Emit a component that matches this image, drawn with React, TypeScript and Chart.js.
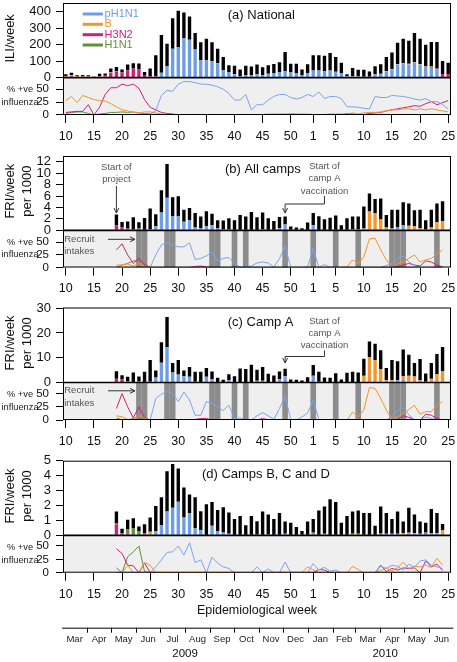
import React, { useEffect, useRef } from 'react';
import { Chart, registerables } from 'chart.js';

Chart.register(...registerables);

const FONT = "'Liberation Sans', Arial, Helvetica, sans-serif";
Chart.defaults.font.family = FONT;
Chart.defaults.color = '#111';

const C_BLUE = '#6c9de6';
const C_BLUE_LINE = '#7aa5ea';
const C_ORANGE = '#f5952a';
const C_MAGENTA = '#cf1f7a';
const C_GREEN = '#62903a';
const C_PCT_BG = '#efefef';
const C_BAND = '#8c8c8c';
const C_NOTE = '#555555';

const _ = null;

// ---- categories: epidemiological weeks 2009 w10 .. 2010 w25 ----
const weekLabels = [
  '10','11','12','13','14','15','16','17','18','19','20','21','22','23','24','25','26','27','28','29',
  '30','31','32','33','34','35','36','37','38','39','40','41','42','43','44','45','46','47','48','49',
  '50','51','52','53',
  '1','2','3','4','5','6','7','8','9','10','11','12','13','14','15','16','17','18','19','20','21','22','23','24','25',
];
const shownTicks2009 = [10, 15, 20, 25, 30, 35, 40, 45, 50];
const shownTicks2010 = [1, 5, 10, 15, 20, 25];
const intakeWeeks2009 = [23, 24, 28, 29, 36, 37, 40, 42, 49];
const intakeWeeks2010 = [1, 5, 9, 15, 16, 17, 23];
const monthNames = ['Mar','Apr','May','Jun','Jul','Aug','Sep','Oct','Nov','Dec','Jan','Feb','Mar','Apr','May','Jun'];
// month boundaries expressed in week-index units (Mar 2009 .. Jul 2010)
const monthStarts = [-0.65, 3.78, 8.07, 12.49, 16.78, 21.21, 25.64, 29.92, 34.35, 38.64, 43.07, 47.49, 51.49, 55.92, 60.21, 64.64, 68.92];
const yearNames = ['2009', '2010'];
const yearPositions = [21.2, 56.8];

const idx2009 = (w: number) => w - 10;
const idx2010 = (w: number) => 43 + w;
const shownTickIdx = new Set([...shownTicks2009.map(idx2009), ...shownTicks2010.map(idx2010)]);
const intakeIdx = [...intakeWeeks2009.map(idx2009), ...intakeWeeks2010.map(idx2010)];

// ---- (a) National ILI/week ----
const natTotal = [
  20,30,14,16,15,6,24,25,55,65,
  50,80,88,86,35,55,135,258,205,360,
  405,395,370,270,215,235,215,175,125,75,
  72,50,72,68,79,63,75,83,93,155,
  85,85,50,81,
  135,135,133,150,125,91,20,58,48,48,
  38,69,81,125,152,212,236,224,270,236,
  200,216,216,101,91];
const natPH1N1 = [
  0,0,0,0,0,0,0,0,0,0,
  0,0,0,0,0,0,5,30,70,175,
  185,240,230,170,107,105,100,87,45,35,
  20,10,14,16,20,16,24,28,35,40,
  35,28,16,28,
  44,44,40,44,36,28,8,8,8,6,
  6,20,24,38,50,80,85,80,90,80,
  65,60,50,0,0];
const natH3N2 = [
  5,8,4,5,5,2,5,8,30,35,
  30,45,55,50,12,8,3,0,0,0,
  0,0,0,0,0,0,0,0,0,0,
  0,0,0,0,0,0,0,0,0,0,
  0,0,0,0,
  0,0,0,0,0,0,0,0,0,0,
  0,0,0,0,0,0,0,0,0,0,
  3,5,5,22,22];
const natB = [
  4,6,3,4,3,1,2,2,2,1,
  0,0,0,0,0,0,0,0,0,0,
  0,0,0,0,0,0,0,0,0,0,
  0,0,0,0,0,0,0,0,0,0,
  0,0,0,0,
  0,0,0,0,0,0,0,0,0,0,
  0,0,0,2,3,3,4,4,4,3,
  2,2,0,0,0];
const natH1N1 = [
  1,1,0,0,0,0,1,1,2,2,
  2,2,1,0,0,0,0,0,0,0,
  0,0,0,0,0,0,0,0,0,0,
  0,0,0,0,0,0,0,0,0,0,
  0,0,0,0,
  0,0,0,0,0,0,0,0,0,0,
  0,0,0,0,0,0,0,0,0,0,
  0,0,0,0,0];
const natPctPH1N1 = [
  0,0,0,0,0,0,0,0,0,0,
  0,0,0,1,1,2,8,38,48,46,
  60,65,65,63,60,60,58,55,50,42,
  29,29,40,10,20,20,29,36,40,40,
  34,31,34,40,
  36,45,32,36,36,32,16,16,15,13,
  12,36,34,34,38,37,36,34,31,29,
  32,26,26,20,12];
const natPctB = [
  28,36,24,38,34,30,28,27,22,16,
  10,8,5,4,6,6,4,2,1,1,
  1,1,1,1,1,1,1,1,1,1,
  1,1,1,1,1,1,2,2,2,2,
  3,2,2,2,
  1,1,1,2,2,2,2,4,2,4,
  5,5,6,8,10,10,12,12,10,12,
  10,12,10,8,6];
const natPctH3N2 = [
  5,6,7,7,20,0,15,40,53,53,
  60,57,60,52,30,15,10,5,3,2,
  0,0,0,0,0,0,0,0,0,0,
  0,0,0,0,0,0,0,0,0,0,
  0,0,0,0,
  0,0,0,0,0,0,3,2,0,1,
  3,4,5,8,10,12,14,16,18,17,
  22,26,20,24,28];
const natPctH1N1 = [
  3,5,6,6,3,0,2,3,5,5,
  6,5,6,4,3,2,1,0,0,0,
  0,0,0,0,0,0,0,0,0,0,
  0,0,0,0,0,0,0,0,0,0,
  0,0,0,0,
  0,0,0,0,0,0,0,0,0,0,
  0,0,0,0,0,0,0,0,0,0,
  0,0,0,0,0];

// ---- (b) All camps FRI/week per 1000 ----
const allTotal = [
  _,_,_,_,_,_,_,_,_,2.75,
  1.45,1.55,2.3,1.4,2.15,3.8,2.8,7.0,11.6,5.8,
  5.95,3.6,3.9,3.05,2.4,3.35,2.9,1.75,1.7,2.1,
  1.75,2.7,2.4,3.2,2.3,3.1,2.1,1.65,2.35,2.4,
  0.65,0.5,0.35,1.35,
  3.05,2.45,1.95,2.2,2.6,0.9,2.1,2.4,2.4,4.15,
  6.45,5.5,5.55,2.7,3.6,3.6,4.9,4.7,3.5,3.6,
  1.75,3.6,4.7,5.1,_];
const allPH1N1 = [
  _,_,_,_,_,_,_,_,_,0,
  0,0,0,0,0,0,0.7,3.1,5.7,2.5,
  2.5,1.5,1.8,0.5,0.4,0.7,0.9,0.4,0.2,0.2,
  0.1,0,0,0,0.1,0.2,0,0,0.4,1.0,
  0,0,0,0,
  0.9,0.1,0,0,0,0,0,0,0,0,
  0,0,0,0,0,0.5,0.9,0.1,0,0,
  0,0,0,0,_];
const allH3N2 = [
  _,_,_,_,_,_,_,_,_,0.9,
  0.5,0.3,0,0.2,0.1,0,0,0,0,0,
  0,0,0,0,0,0,0,0,0,0,
  0,0,0,0,0,0,0,0,0,0,
  0,0,0,0,
  0,0,0,0,0,0,0,0,0,0,
  0,0,0,0,0,0,0,0,0,0.1,
  0.2,0,0,0,_];
const allB = [
  _,_,_,_,_,_,_,_,_,0,
  0,0,0,0,0,0.2,0,0,0,0,
  0,0,0,0,0,0,0,0,0,0,
  0,0,0,0,0,0,0,0,0,0,
  0,0,0,0,
  0,0,0,0,0,0,0,0.2,0.2,0.3,
  3.3,3.0,1.9,0.5,0.3,0,0,0.7,0.7,0.3,
  0,0.5,1.4,1.6,_];
const allH1N1 = [
  _,_,_,_,_,_,_,_,_,0,
  0,0,0.2,0.1,0,0,0,0,0,0,
  0,0,0,0,0,0,0,0,0,0,
  0,0,0,0,0,0,0,0,0,0,
  0,0,0,0,
  0,0,0,0,0,0,0,0,0,0,
  0,0,0,0,0,0,0,0,0,0,
  0,0,0,0,_];
const allPctPH1N1 = [
  _,_,_,_,_,_,_,_,_,0,
  0,0,0,0,0,0,25,45,50,45,
  41,41,49,16,18,23,31,13,18,20,
  8,1,1,3,9,11,9,1,18,43,
  0,0,0,1,
  38,0,6,0,0,0,0,0,0,0,
  0,0,0,4,8,18,23,11,4,0,
  0,0,0,0,_];
const allPctH3N2 = [
  _,_,_,_,_,_,_,_,_,35,
  47,25,8,19,5,0,0,0,0,0,
  0,0,0,2,3,1,0,0,0,0,
  0,0,0,0,0,0,0,0,0,0,
  0,0,0,0,
  0,0,0,0,0,0,0,0,0,0,
  0,0,0,0,0,2,5,8,5,3,
  13,11,5,1,_];
const allPctB = [
  _,_,_,_,_,_,_,_,_,5,
  5,7,3,8,3,0,0,0,0,0,
  0,0,0,0,0,0,0,0,0,0,
  0,0,0,0,0,0,0,0,0,0,
  0,0,0,0,
  0,0,0,0,0,0,1,15,8,21,
  57,58,35,15,1,8,11,18,25,11,
  15,18,27,35,_];
const allPctH1N1 = [
  _,_,_,_,_,_,_,_,_,0,
  5,8,13,14,7,0,0,0,0,0,
  0,0,0,0,0,0,0,0,0,0,
  0,0,0,0,0,0,0,0,0,0,
  0,0,0,0,
  0,0,0,0,0,0,0,0,0,0,
  0,0,0,0,0,0,0,0,0,0,
  0,0,0,0,_];

// ---- (c) Camp A ----
const campATotal = [
  _,_,_,_,_,_,_,_,_,4.5,
  2.9,2.3,4.0,2.4,4.3,9.1,4.8,16.3,26.5,7.9,
  9.1,4.8,6.3,4.3,4.3,5.9,4.4,1.9,1.1,3.3,
  2.5,5.7,5.5,7.2,5.2,6.3,3.5,2.8,4.4,5.6,
  1.2,1.1,0.8,2.1,
  7.1,4.3,2.0,1.9,3.7,1.2,3.9,4.3,4.0,9.6,
  16.6,15.7,13.0,5.9,9.1,8.6,13.3,11.2,7.9,9.5,
  3.6,7.9,11.5,14.3,_];
const campAPH1N1 = [
  _,_,_,_,_,_,_,_,_,0,
  0,0,0,0,0,0,2.0,8.0,14.2,4.0,
  3.2,2.5,2.3,0.3,0,2.3,1.4,0,0,1.0,
  0,0,0,0,0.7,0.7,0,0,1.3,2.5,
  0,0,0,0,
  2.7,0.3,0,0,0,0,0,0,0,0,
  0,0,0,0,0,1.0,1.0,0.3,0,0,
  0,0,0,0,_];
const campAH3N2 = [
  _,_,_,_,_,_,_,_,_,1.5,
  1.3,0.5,0,0.5,0.2,0,0,0,0,0,
  0,0,0,0,0,0,0,0,0,0,
  0,0,0,0,0,0,0,0,0,0,
  0,0,0,0,
  0,0,0,0,0,0,0,0,0,0,
  0,0,0,0,0,0,0,0,0,0,
  0.3,0,0,0,_];
const campAB = [
  _,_,_,_,_,_,_,_,_,0,
  0,0,0,0,0,0.3,0,0,0,0,
  0,0,0,0,0,0,0,0,0,0,
  0,0,0,0,0,0,0,0,0,0,
  0,0,0,0,
  0,0,0,0,0,0,0,0,0,2.7,
  10.3,9.0,5.4,1.0,1.0,0,1.5,2.4,2.4,1.0,
  0,1.5,3.3,4.6,_];
const campAH1N1 = [
  _,_,_,_,_,_,_,_,_,0,
  0,0,0.2,0,0,0,0,0,0,0,
  0,0,0,0,0,0,0,0,0,0,
  0,0,0,0,0,0,0,0,0,0,
  0,0,0,0,
  0,0,0,0,0,0,0,0,0,0,
  0,0,0,0,0,0,0,0,0,0,
  0,0,0,0,_];
const campAPctPH1N1 = [
  _,_,_,_,_,_,_,_,_,0,
  0,0,0,0,0,0,41,49,55,50,
  35,53,38,9,9,35,32,25,18,28,
  3,4,0,0,8,14,8,1,22,46,
  0,0,6,13,
  38,1,0,0,0,0,0,0,0,0,
  0,0,0,0,6,18,24,10,0,0,
  6,3,0,0,_];
const campAPctH3N2 = [
  _,_,_,_,_,_,_,_,_,22,
  50,25,4,25,4,0,0,0,0,0,
  0,0,0,1,3,3,0,0,0,0,
  0,0,0,0,0,3,0,0,0,0,
  0,0,0,0,
  0,0,0,0,0,0,0,0,0,0,
  0,0,0,0,0,1,8,5,1,0,
  11,9,3,0,_];
const campAPctB = [
  _,_,_,_,_,_,_,_,_,8,
  6,1,0,8,3,0,0,0,0,0,
  0,0,0,0,0,0,0,0,0,0,
  0,0,0,0,0,0,0,0,0,0,
  0,0,0,0,
  0,0,0,0,0,0,0,15,6,19,
  62,60,41,19,1,6,13,20,28,11,
  16,16,28,35,_];
const campAPctH1N1 = [
  _,_,_,_,_,_,_,_,_,4,
  0,0,3,6,1,0,0,0,0,0,
  0,0,0,0,0,0,0,0,0,0,
  0,0,0,0,0,0,0,0,0,0,
  0,0,0,0,
  0,0,0,0,0,0,0,0,0,0,
  0,0,0,0,0,0,0,0,0,0,
  0,0,0,0,_];

// ---- (d) Camps B, C and D ----
const bcdTotal = [
  _,_,_,_,_,_,_,_,_,1.6,
  0.45,1.05,1.15,0.6,0.75,1.2,1.97,2.55,4.3,4.78,
  4.47,3.2,2.73,2.55,1.62,2.09,2.24,1.7,1.88,1.53,
  1.1,1.3,0.67,1.3,0.95,1.6,1.4,1.1,1.5,0.93,
  0.85,0.56,0.3,0.93,
  1.1,1.67,1.93,2.42,2.24,0.85,1.3,1.6,1.67,1.5,
  1.5,0.65,1.93,1.5,1.1,1.6,0.93,1.85,1.4,0.93,
  0.85,1.76,1.5,0.76,_];
const bcdPH1N1 = [
  _,_,_,_,_,_,_,_,_,0,
  0,0,0,0,0,0,0.3,0.7,1.6,1.85,
  2.25,1.2,1.5,0.5,0.35,0,0.65,0.3,0.2,0.1,
  0,0,0,0,0.05,0,0.05,0,0,0.1,
  0,0,0,0,
  0.1,0,0.1,0,0,0,0,0,0,0,
  0,0,0.05,0.1,0.1,0.1,0,0.15,0.1,0.1,
  0.1,0.15,0.1,0.1,_];
const bcdH3N2 = [
  _,_,_,_,_,_,_,_,_,0.75,
  0.15,0.1,0.05,0,0.15,0,0,0,0,0,
  0,0,0,0,0,0,0,0,0,0,
  0,0,0,0,0,0,0,0,0,0,
  0,0,0,0,
  0.1,0,0,0,0,0,0,0,0,0,
  0,0,0.1,0,0,0,0,0.05,0,0,
  0.1,0,0,0,_];
const bcdB = [
  _,_,_,_,_,_,_,_,_,0,
  0,0,0,0,0,0.25,0,0,0,0,
  0,0,0,0,0,0,0,0,0,0,
  0,0,0,0,0,0,0,0,0,0,
  0,0,0,0,
  0,0,0,0,0,0,0,0.1,0.1,0,
  0,0,0,0,0,0,0.15,0,0.05,0,
  0,0,0.05,0.25,_];
const bcdH1N1 = [
  _,_,_,_,_,_,_,_,_,0.05,
  0,0.3,0.45,0.3,0,0,0,0,0,0,
  0,0,0,0,0,0,0,0,0,0,
  0,0,0,0,0,0,0,0,0,0,
  0,0,0,0,
  0,0,0,0,0,0,0,0,0,0,
  0,0,0,0,0,0,0,0,0,0,
  0,0,0,0,_];
const bcdPctPH1N1 = [
  _,_,_,_,_,_,_,_,_,0,
  0,0,0,0,0,0,11,24,38,39,
  50,33,56,19,24,0,29,18,11,8,
  0,0,0,0,11,0,7,0,0,20,
  0,0,0,0,
  17,5,10,3,5,0,0,0,0,0,
  0,0,12,8,14,12,5,16,10,22,
  24,14,11,8,_];
const bcdPctH3N2 = [
  _,_,_,_,_,_,_,_,_,45,
  36,14,13,0,18,0,0,0,0,0,
  0,0,0,0,0,0,0,0,0,0,
  0,0,0,0,0,0,0,0,0,0,
  0,0,0,0,
  0,6,5,0,0,0,0,0,0,0,
  0,0,14,2,8,5,9,8,9,0,
  22,11,16,4,_];
const bcdPctB = [
  _,_,_,_,_,_,_,_,_,0,
  0,14,0,0,19,14,0,0,0,0,
  0,0,0,0,0,0,0,0,0,0,
  0,0,0,0,0,0,0,0,0,0,
  0,0,0,11,
  5,0,0,0,0,0,0,12,6,0,
  0,0,4,9,3,9,20,8,12,11,
  14,10,27,14,_];
const bcdPctH1N1 = [
  _,_,_,_,_,_,_,_,_,9,
  0,30,39,50,2,0,0,0,0,0,
  0,0,0,0,0,0,0,0,0,0,
  0,0,0,0,0,0,0,0,0,0,
  0,0,0,0,
  0,0,0,0,0,0,0,0,0,0,
  0,0,0,0,0,0,0,0,0,0,
  0,0,0,0,_];

type Series = (number | null)[];
interface PanelDef {
  key: 'a' | 'b' | 'c' | 'd';
  top: number; height: number; boxTop: number; boxBottom: number;
  barMax: number; barStep: number; pctMax: number;
  total: Series; pH1N1: Series; h3n2: Series; b: Series; h1n1: Series;
  pctPH1N1: Series; pctH3N2: Series; pctB: Series; pctH1N1: Series;
  yTitle: string[]; title: string; titleX: number; titleDy: number;
  bands: boolean;
}

const PANELS: PanelDef[] = [
  { key: 'a', top: 0, height: 150, boxTop: 3, boxBottom: 115, barMax: 452, barStep: 100, pctMax: 72.6,
    total: natTotal, pH1N1: natPH1N1, h3n2: natH3N2, b: natB, h1n1: natH1N1,
    pctPH1N1: natPctPH1N1, pctH3N2: natPctH3N2, pctB: natPctB, pctH1N1: natPctH1N1,
    yTitle: ['ILI/week'], title: '(a) National', titleX: 28.8, titleDy: 12.3, bands: false },
  { key: 'b', top: 150, height: 152, boxTop: 156, boxBottom: 267.5, barMax: 13, barStep: 2, pctMax: 73.8,
    total: allTotal, pH1N1: allPH1N1, h3n2: allH3N2, b: allB, h1n1: allH1N1,
    pctPH1N1: allPctPH1N1, pctH3N2: allPctH3N2, pctB: allPctB, pctH1N1: allPctH1N1,
    yTitle: ['FRI/week', 'per 1000'], title: '(b) All camps', titleX: 28.3, titleDy: 13.3, bands: true },
  { key: 'c', top: 302, height: 150, boxTop: 307.5, boxBottom: 420, barMax: 30.3, barStep: 10, pctMax: 71.3,
    total: campATotal, pH1N1: campAPH1N1, h3n2: campAH3N2, b: campAB, h1n1: campAH1N1,
    pctPH1N1: campAPctPH1N1, pctH3N2: campAPctH3N2, pctB: campAPctB, pctH1N1: campAPctH1N1,
    yTitle: ['FRI/week', 'per 1000'], title: '(c) Camp A', titleX: 28.8, titleDy: 14.8, bands: true },
  { key: 'd', top: 452, height: 210, boxTop: 460.7, boxBottom: 572.7, barMax: 5, barStep: 1, pctMax: 69.9,
    total: bcdTotal, pH1N1: bcdPH1N1, h3n2: bcdH3N2, b: bcdB, h1n1: bcdH1N1,
    pctPH1N1: bcdPctPH1N1, pctH3N2: bcdPctH3N2, pctB: bcdPctB, pctH1N1: bcdPctH1N1,
    yTitle: ['FRI/week', 'per 1000'], title: '(d) Camps B, C and D', titleX: 24.2, titleDy: 13.3, bands: false },
];

function arrowDown(ctx: CanvasRenderingContext2D, x: number, y: number) {
  ctx.beginPath();
  ctx.moveTo(x - 2.5, y - 5); ctx.lineTo(x, y); ctx.lineTo(x + 2.5, y - 5);
  ctx.stroke();
}
function arrowRight(ctx: CanvasRenderingContext2D, x: number, y: number) {
  ctx.beginPath();
  ctx.moveTo(x - 5, y - 2.5); ctx.lineTo(x, y); ctx.lineTo(x - 5, y + 2.5);
  ctx.stroke();
}
function line(ctx: CanvasRenderingContext2D, pts: number[][]) {
  ctx.beginPath();
  pts.forEach(([x, y], i) => (i ? ctx.lineTo(x, y) : ctx.moveTo(x, y)));
  ctx.stroke();
}

function makePlugin(p: PanelDef) {
  return {
    id: 'deco_' + p.key,
    beforeDatasetsDraw(chart: any) {
      const { ctx, chartArea: ca, scales } = chart;
      const yp = scales.yp, x = scales.x;
      ctx.save();
      ctx.fillStyle = C_PCT_BG;
      ctx.fillRect(ca.left, yp.top, ca.right - ca.left, yp.bottom - yp.top);
      if (p.bands) {
        ctx.fillStyle = C_BAND;
        intakeIdx.forEach((i) => {
          const x0 = x.getPixelForValue(i - 0.5);
          const x1 = x.getPixelForValue(i + 0.5);
          ctx.fillRect(x0, yp.top, x1 - x0, yp.bottom - yp.top);
        });
      }
      ctx.restore();
    },
    afterDraw(chart: any) {
      const { ctx, chartArea: ca, scales } = chart;
      const x = scales.x, yb = scales.yb, yp = scales.yp;
      const X = (v: number) => x.getPixelForValue(v);
      const y0 = yb.getPixelForValue(0);
      ctx.save();
      // box
      ctx.strokeStyle = '#000';
      ctx.lineWidth = 1;
      ctx.strokeRect(ca.left + 0.5, ca.top + 0.5, ca.right - ca.left - 1, ca.bottom - ca.top - 1);
      ctx.lineWidth = 1.6;
      line(ctx, [[ca.left, y0], [ca.right, y0]]);

      // axis titles
      ctx.fillStyle = '#111';
      ctx.textAlign = 'center';
      ctx.textBaseline = 'middle';
      ctx.font = `13px ${FONT}`;
      const midBar = (yb.top + yb.bottom) / 2 - 2;
      p.yTitle.forEach((t, k) => {
        ctx.save();
        ctx.translate(10 + 17 * k, midBar);
        ctx.rotate(-Math.PI / 2);
        ctx.fillText(t, 0, 0);
        ctx.restore();
      });
      const midPct = (yp.top + yp.bottom) / 2;
      ctx.font = `9.3px ${FONT}`;
      ctx.fillStyle = '#222';
      ctx.fillText('% +ve', 20, midPct - 6.5);
      ctx.fillText('influenza', 20, midPct + 6);

      // panel title
      ctx.font = `13px ${FONT}`;
      ctx.fillStyle = '#111';
      ctx.textAlign = 'left';
      ctx.fillText(p.title, X(p.titleX), ca.top + p.titleDy);

      if (p.key === 'a') {
        const legend: [string, string][] = [['pH1N1', C_BLUE], ['B', C_ORANGE], ['H3N2', C_MAGENTA], ['H1N1', C_GREEN]];
        const rows = [11, 21.3, 31.7, 42];
        ctx.font = `11px ${FONT}`;
        legend.forEach(([name, col], k) => {
          const yy = ca.top + rows[k];
          ctx.strokeStyle = col;
          ctx.lineWidth = 3;
          line(ctx, [[X(3.0), yy], [X(6.6), yy]]);
          ctx.fillStyle = col;
          ctx.fillText(name, X(6.9), yy);
        });
      }

      ctx.strokeStyle = '#333';
      ctx.lineWidth = 1;
      ctx.fillStyle = C_NOTE;
      ctx.font = `9.5px ${FONT}`;
      ctx.textAlign = 'center';
      if (p.key === 'b') {
        const xp = X(idx2009(19));
        ctx.fillText('Start of', xp, ca.top + 11);
        ctx.fillText('project', xp, ca.top + 23);
        line(ctx, [[xp, ca.top + 30], [xp, ca.top + 57]]);
        arrowDown(ctx, xp, ca.top + 57);
      }
      if (p.key === 'b' || p.key === 'c') {
        const dy = p.key === 'b' ? [10, 22.7, 35, 40, 48, 57] : [13.5, 26.2, 38.2, 43, 49, 55.5];
        const xt = X(idx2010(3));
        const xv = X(idx2009(49));
        ctx.fillText('Start of', xt, ca.top + dy[0]);
        ctx.fillText('camp A', xt, ca.top + dy[1]);
        ctx.fillText('vaccination', xt, ca.top + dy[2]);
        line(ctx, [[xt, ca.top + dy[3]], [xt, ca.top + dy[4]], [xv, ca.top + dy[4]], [xv, ca.top + dy[5]]]);
        arrowDown(ctx, xv, ca.top + dy[5]);
        const r1 = p.key === 'b' ? 9 : 8.3;
        const xr = X(2.4);
        ctx.fillText('Recruit', xr, y0 + r1);
        ctx.fillText('intakes', xr, y0 + 20.7);
        line(ctx, [[X(7.5), y0 + r1], [X(12.3), y0 + r1]]);
        arrowRight(ctx, X(12.3), y0 + r1);
      }

      if (p.key === 'd') {
        ctx.fillStyle = '#111';
        ctx.font = `12.5px ${FONT}`;
        ctx.fillText('Epidemiological week', (ca.left + ca.right) / 2, ca.bottom + 38);
        const ly = ca.bottom + 55;
        ctx.strokeStyle = '#000';
        ctx.lineWidth = 1;
        line(ctx, [[X(monthStarts[0]), ly + 0.5], [X(monthStarts[monthStarts.length - 1]), ly + 0.5]]);
        for (let k = 1; k < monthStarts.length - 1; k++) {
          const mx = Math.round(X(monthStarts[k])) + 0.5;
          line(ctx, [[mx, ly], [mx, ly + 5]]);
        }
        ctx.font = `9.5px ${FONT}`;
        ctx.fillStyle = '#222';
        monthNames.forEach((m, k) => {
          ctx.fillText(m, (X(monthStarts[k]) + X(monthStarts[k + 1])) / 2, ly + 11.5);
        });
        ctx.font = `11.5px ${FONT}`;
        ctx.fillStyle = '#111';
        yearNames.forEach((yname, k) => ctx.fillText(yname, X(yearPositions[k]), ly + 26.5));
      }
      ctx.restore();
    },
  };
}

const noPad = (s: any) => { s.paddingTop = 0; s.paddingBottom = 0; s.paddingLeft = 0; s.paddingRight = 0; };

function buildConfig(p: PanelDef): any {
  const other = p.total.map((t, i) =>
    t == null ? null : Math.max(0, t - (p.pH1N1[i] || 0) - (p.h3n2[i] || 0) - (p.b[i] || 0) - (p.h1n1[i] || 0)));
  const bar = (label: string, data: Series, color: string) => ({
    type: 'bar', label, data, backgroundColor: color, yAxisID: 'yb', borderWidth: 0,
    barPercentage: 0.6, categoryPercentage: 1,
  });
  const ln = (label: string, data: Series, color: string) => ({
    type: 'line', label, data, borderColor: color, backgroundColor: color, yAxisID: 'yp',
    borderWidth: 1, pointRadius: 0, tension: 0, fill: false, spanGaps: false,
  });
  const xH = p.height - (p.boxBottom - p.top);
  return {
    type: 'bar',
    data: {
      labels: weekLabels,
      datasets: [
        bar('pH1N1', p.pH1N1, C_BLUE),
        bar('H3N2', p.h3n2, C_MAGENTA),
        bar('B', p.b, C_ORANGE),
        bar('H1N1', p.h1n1, C_GREEN),
        bar('Other', other, '#000000'),
        ln('% pH1N1', p.pctPH1N1, C_BLUE_LINE),
        ln('% B', p.pctB, C_ORANGE),
        ln('% H3N2', p.pctH3N2, C_MAGENTA),
        ln('% H1N1', p.pctH1N1, C_GREEN),
      ],
    },
    options: {
      animation: false,
      responsive: false,
      devicePixelRatio: 1,
      events: [],
      layout: { padding: { top: p.boxTop - p.top, right: 6, left: 0, bottom: 0 }, autoPadding: false },
      plugins: { legend: { display: false }, tooltip: { enabled: false } },
      scales: {
        x: {
          type: 'category', offset: true, stacked: true,
          border: { display: false },
          grid: {
            offset: false, drawOnChartArea: false, drawTicks: true, tickLength: 8, lineWidth: 1,
            tickColor: (c: any) => (shownTickIdx.has(c.index) ? '#000' : 'rgba(0,0,0,0)'),
          },
          ticks: {
            autoSkip: false, maxRotation: 0, minRotation: 0, padding: 6,
            font: { size: 12.5, family: FONT }, color: '#111',
            callback: (_v: any, i: number) => (shownTickIdx.has(i) ? weekLabels[i] : ''),
          },
          afterFit: (s: any) => { s.height = xH; noPad(s); },
        },
        yb: {
          type: 'linear', position: 'left', stack: 'panel', stackWeight: 2, weight: 1, stacked: true,
          min: 0, max: p.barMax,
          border: { display: false },
          grid: { drawOnChartArea: false, tickLength: 7, tickColor: '#000', lineWidth: 1 },
          ticks: { stepSize: p.barStep, autoSkip: false, includeBounds: false, padding: 5, font: { size: 13, family: FONT }, color: '#111' },
          afterFit: (s: any) => { s.width = 63; noPad(s); },
        },
        yp: {
          type: 'linear', position: 'left', stack: 'panel', stackWeight: 1, weight: 0,
          min: 0, max: p.pctMax,
          border: { display: false },
          grid: { drawOnChartArea: false, tickLength: 7, tickColor: '#000', lineWidth: 1 },
          ticks: { stepSize: 25, autoSkip: false, includeBounds: false, padding: 7, font: { size: 11.5, family: FONT }, color: '#111' },
          afterFit: (s: any) => { s.width = 63; noPad(s); },
        },
      },
    },
    plugins: [makePlugin(p)],
  };
}

function PanelChart({ p }: { p: PanelDef }) {
  const ref = useRef<HTMLCanvasElement>(null);
  useEffect(() => {
    const chart = new Chart(ref.current as HTMLCanvasElement, buildConfig(p));
    return () => chart.destroy();
  }, [p]);
  return (
    <canvas
      ref={ref}
      width={457}
      height={p.height}
      style={{ position: 'absolute', left: 0, top: p.top, width: 457, height: p.height, display: 'block' }}
    />
  );
}

export default function App() {
  return (
    <div style={{ position: 'absolute', left: 0, top: 0, width: 457, height: 662, background: '#ffffff', overflow: 'hidden' }}>
      {PANELS.map((p) => (
        <PanelChart key={p.key} p={p} />
      ))}
    </div>
  );
}
